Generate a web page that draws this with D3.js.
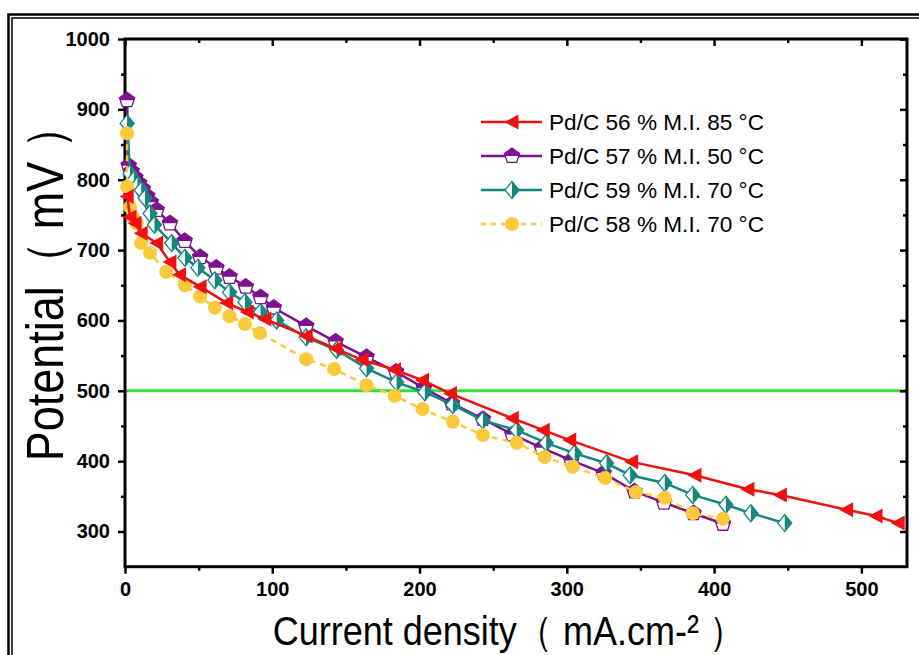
<!DOCTYPE html>
<html>
<head>
<meta charset="utf-8">
<script src="https://cdn.jsdelivr.net/npm/d3@7"></script>
<style>
  body { margin: 0; background: #fff; }
  svg { display: block; }
  text { font-family: "Liberation Sans", Arial, sans-serif; }
</style>
</head>
<body>
<div id="chart"></div>
<script>
// data: [current density mA/cm2, potential mV]
var pd56 = [[1.5, 776], [3.4, 747], [6.8, 738], [11, 724], [21.5, 710], [30.5, 683], [37, 665], [51, 648],
    [69, 625], [83, 612], [95, 602], [123, 578], [143, 560], [161, 544], [183, 530], [202, 515], [221, 496],
    [263, 461], [284, 444], [302, 430], [344, 399], [387, 380], [423, 360], [445, 352], [490, 331],
    [510, 322], [525, 312]];
var pd57 = [[1.4, 913], [2.5, 820], [4.5, 812], [7, 803], [9.5, 795], [12, 787], [15, 777], [17.5, 768],
    [21.5, 757], [30.5, 738], [40.5, 713], [51, 690], [62, 675], [71, 662], [82, 648], [92, 633], [101, 618],
    [123, 592], [143, 570], [164, 548], [184, 527], [203, 504], [222, 482], [243, 460], [263, 438],
    [283, 419], [303, 401], [325, 383], [346, 357], [366, 341], [386, 326], [406, 311]];
var pd59 = [[1.4, 880], [3.4, 809], [6, 800], [8.5, 792], [11, 785], [13.6, 774], [17, 752], [20, 736],
    [31.7, 710], [40.7, 689], [49.5, 675], [61, 657], [71, 640], [81.5, 626], [92, 612], [103, 600],
    [123, 576], [143.7, 558], [164, 532], [184.4, 512], [203.6, 498], [222.6, 480], [243, 458], [266, 444],
    [286, 426], [305.4, 411], [327, 397], [343, 380], [366.5, 369], [385.5, 352], [408, 338], [425, 326],
    [448, 312]];
var pd58 = [[1.4, 866], [1.4, 790], [3.4, 761], [5.4, 747], [8, 738], [11, 710], [17, 696], [28, 669],
    [40.7, 650], [51, 634], [61, 618], [71, 606], [81.5, 595], [91.6, 582], [123, 545], [142, 531],
    [164, 508], [183, 493], [202, 474], [222.6, 456], [243, 437], [266, 426], [285, 406], [304, 392],
    [326, 376], [347, 356], [366.5, 348], [385.5, 326], [406, 318]];

var seriesNames = ["Pd/C 56 % M.I. 85 °C", "Pd/C 57 % M.I. 50 °C", "Pd/C 59 % M.I. 70 °C", "Pd/C 58 % M.I. 70 °C"];
var xTicks = [0, 100, 200, 300, 400, 500];
var yTicks = [300, 400, 500, 600, 700, 800, 900, 1000];
var refLine = 500;

var colRed = "#f01010", colPurple = "#7d128f", colTeal = "#14877f", colYellow = "#fbc93a";

var W = 919, H = 655;
var svg = d3.select("#chart").append("svg")
    .attr("width", W)
    .attr("height", H);

// double frame
svg.append("rect").attr("x", 8.5).attr("y", 14.5).attr("width", 940).attr("height", 700)
    .attr("fill", "none").attr("stroke", "#000").attr("stroke-width", 2.5);
svg.append("rect").attr("x", 12).attr("y", 18).attr("width", 940).attr("height", 700)
    .attr("fill", "none").attr("stroke", "#000").attr("stroke-width", 1.5);

var plotL = 125, plotR = 907, plotT = 39, plotB = 566.7;

var x = d3.scaleLinear().domain([0, 531]).range([plotL, plotR]);
var y = d3.scaleLinear().domain([250, 1000]).range([plotB, plotT]);

// reference line at 500 mV
svg.append("line")
    .attr("x1", plotL).attr("x2", plotR)
    .attr("y1", y(refLine)).attr("y2", y(refLine))
    .attr("stroke", "#33e033").attr("stroke-width", 3);

// axes
var xMinor = d3.range(50, 531, 100);
var yMinor = d3.range(350, 1000, 100);

function styleAxis(g) {
    g.select(".domain").remove();
    g.selectAll(".tick line").attr("stroke", "#000").attr("stroke-width", 2.5);
}

var xAxis = svg.append("g")
    .attr("transform", "translate(0," + plotB + ")")
    .call(d3.axisBottom(x).tickValues(xTicks).tickSize(7).tickPadding(8).tickFormat(d3.format("d")));
xAxis.call(styleAxis);
xAxis.selectAll("text").attr("font-size", 20).attr("font-weight", "bold").attr("fill", "#000")
    .attr("font-family", "'Liberation Sans', Arial, sans-serif");
svg.append("g").attr("transform", "translate(0," + plotB + ")")
    .call(d3.axisBottom(x).tickValues(xMinor).tickSize(4).tickFormat(""))
    .call(styleAxis);

svg.append("g").attr("transform", "translate(0," + plotT + ")")
    .call(d3.axisBottom(x).tickValues(xTicks).tickSize(7).tickFormat(""))
    .call(styleAxis);
svg.append("g").attr("transform", "translate(0," + plotT + ")")
    .call(d3.axisBottom(x).tickValues(xMinor).tickSize(4).tickFormat(""))
    .call(styleAxis);

var yAxis = svg.append("g")
    .attr("transform", "translate(" + plotL + ",0)")
    .call(d3.axisLeft(y).tickValues(yTicks).tickSize(7).tickPadding(8).tickFormat(d3.format("d")));
yAxis.call(styleAxis);
yAxis.selectAll("text").attr("font-size", 20).attr("font-weight", "bold").attr("fill", "#000")
    .attr("font-family", "'Liberation Sans', Arial, sans-serif");
svg.append("g").attr("transform", "translate(" + plotL + ",0)")
    .call(d3.axisLeft(y).tickValues(yMinor).tickSize(4).tickFormat(""))
    .call(styleAxis);

svg.append("g").attr("transform", "translate(" + plotR + ",0)")
    .call(d3.axisRight(y).tickValues(yTicks).tickSize(-7).tickFormat(""))
    .call(styleAxis);
svg.append("g").attr("transform", "translate(" + plotR + ",0)")
    .call(d3.axisRight(y).tickValues(yMinor).tickSize(-4).tickFormat(""))
    .call(styleAxis);

// plot frame
svg.append("rect")
    .attr("x", plotL).attr("y", plotT)
    .attr("width", plotR - plotL).attr("height", plotB - plotT)
    .attr("fill", "none").attr("stroke", "#000").attr("stroke-width", 3);

// marker drawers
function triangleLeft(g, c) {
    g.append("path").attr("d", "M-7.5,0L6.5,-7.5L6.5,7.5Z").attr("fill", c);
}
function pentagonHalf(g, c) {
    var r = 8;
    var pts = d3.range(5).map(function(i) {
        var a = -Math.PI / 2 + i * 2 * Math.PI / 5;
        return [r * Math.cos(a), r * Math.sin(a)];
    });
    g.append("path").attr("d", "M" + pts.join("L") + "Z")
        .attr("fill", "#fff").attr("stroke", c).attr("stroke-width", 1.3);
    var topHalf = [[0, -r], [0.951 * r, -0.309 * r], [0.851 * r, 0], [-0.851 * r, 0], [-0.951 * r, -0.309 * r]];
    g.append("path").attr("d", "M" + topHalf.join("L") + "Z").attr("fill", c);
}
function diamondHalf(g, c) {
    var w = 7, h = 8.5;
    g.append("path").attr("d", "M0," + (-h) + "L" + w + ",0L0," + h + "L" + (-w) + ",0Z")
        .attr("fill", "#fff").attr("stroke", c).attr("stroke-width", 1.3);
    g.append("path").attr("d", "M0," + (-h) + "L" + w + ",0L0," + h + "Z").attr("fill", c);
}
function circleDot(g, c) {
    g.append("circle").attr("r", 7).attr("fill", c);
}

var series = [
    {data: pd57, color: colPurple, marker: pentagonHalf, dash: null},
    {data: pd59, color: colTeal, marker: diamondHalf, dash: null},
    {data: pd58, color: colYellow, marker: circleDot, dash: "6,5"},
    {data: pd56, color: colRed, marker: triangleLeft, dash: null}
];

var line = d3.line()
    .x(function(d) { return x(d[0]); })
    .y(function(d) { return y(d[1]); });

series.forEach(function(s) {
    svg.append("path")
        .datum(s.data)
        .attr("d", line)
        .attr("fill", "none")
        .attr("stroke", s.color)
        .attr("stroke-width", 2.5)
        .attr("stroke-dasharray", s.dash);
    svg.selectAll(null)
        .data(s.data)
        .enter()
        .append("g")
        .attr("transform", function(d) { return "translate(" + x(d[0]) + "," + y(d[1]) + ")"; })
        .each(function() { s.marker(d3.select(this), s.color); });
});

// legend
var legendItems = [
    {name: seriesNames[0], color: colRed, marker: triangleLeft, dash: null},
    {name: seriesNames[1], color: colPurple, marker: pentagonHalf, dash: null},
    {name: seriesNames[2], color: colTeal, marker: diamondHalf, dash: null},
    {name: seriesNames[3], color: colYellow, marker: circleDot, dash: "5,5"}
];
var legend = svg.append("g").attr("transform", "translate(481,122)");
legendItems.forEach(function(d, i) {
    var row = legend.append("g").attr("transform", "translate(0," + i * 34 + ")");
    row.append("line").attr("x1", 0).attr("x2", 61).attr("y1", 0).attr("y2", 0)
        .attr("stroke", d.color).attr("stroke-width", 2.5).attr("stroke-dasharray", d.dash);
    d.marker(row.append("g").attr("transform", "translate(31,0)"), d.color);
    row.append("text").attr("x", 68).attr("y", 8)
        .attr("font-size", 22.6).attr("fill", "#000").text(d.name);
});

// axis titles
svg.append("text")
    .attr("transform", "translate(509,645) scale(1,1.15)")
    .attr("text-anchor", "middle")
    .attr("font-size", 36)
    .attr("fill", "#000")
    .text("Current density（ mA.cm-² ）");

svg.append("text")
    .attr("transform", "translate(63,283) rotate(-90) scale(1,1.15)")
    .attr("text-anchor", "middle")
    .attr("font-size", 45)
    .attr("fill", "#000")
    .text("Potential（ mV ）");
</script>
</body>
</html>
